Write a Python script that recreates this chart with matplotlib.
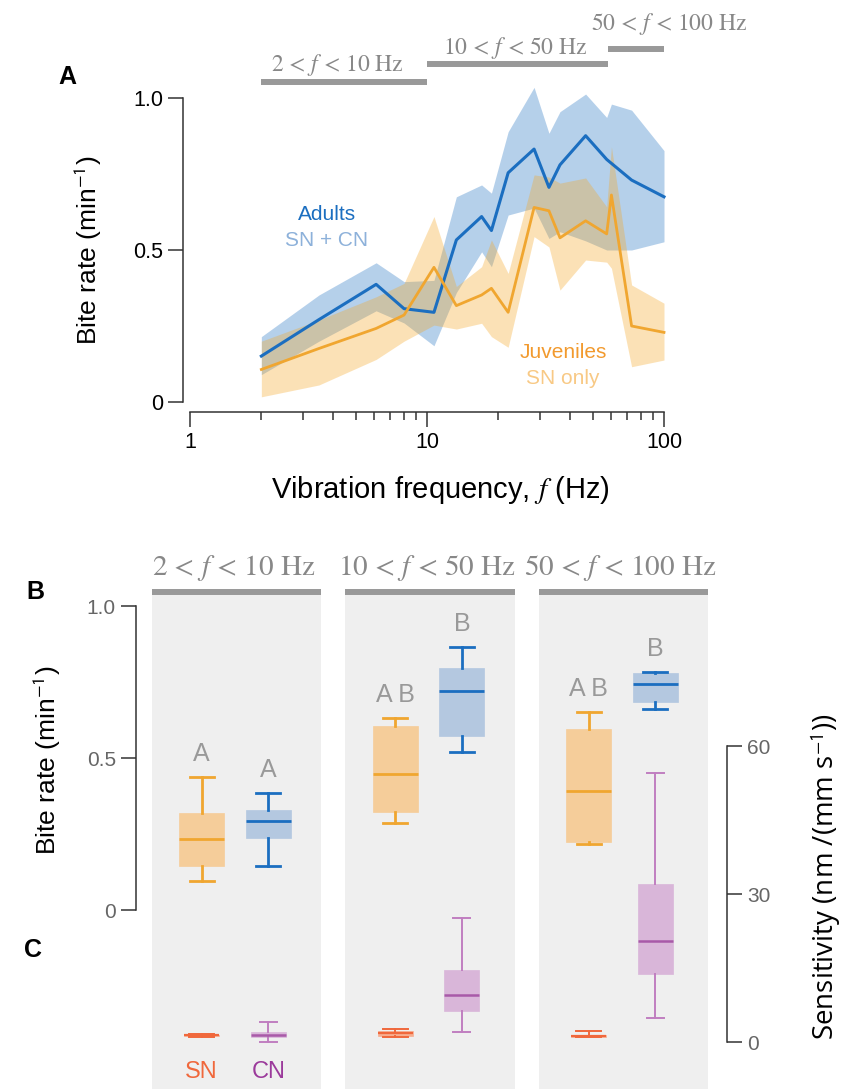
import matplotlib
matplotlib.use('Agg')
import matplotlib.pyplot as plt
from matplotlib.ticker import FixedLocator, NullFormatter

plt.rcParams['font.family'] = ['Liberation Sans', 'DejaVu Sans']
plt.rcParams['mathtext.fontset'] = 'stix'

# ---- panel A: bite rate vs vibration frequency ----
freq = [2, 3.5, 6.1, 8, 10.7, 13.3, 17, 18.7, 22, 28.3, 32.7, 36.4, 46.7, 57.3, 60, 73, 100]
adult_mean = [0.151, 0.271, 0.387, 0.307, 0.295, 0.533, 0.61, 0.564, 0.754, 0.832,
              0.706, 0.78, 0.876, 0.798, 0.785, 0.73, 0.675]
adult_hi = [0.215, 0.352, 0.458, 0.396, 0.40, 0.675, 0.714, 0.687, 0.889, 1.035,
            0.884, 0.955, 1.013, 0.936, 0.98, 0.96, 0.827]
adult_lo = [0.09, 0.20, 0.30, 0.26, 0.185, 0.36, 0.494, 0.445, 0.615, 0.638,
            0.538, 0.56, 0.53, 0.50, 0.50, 0.50, 0.527]
juv_mean = [0.107, 0.176, 0.242, 0.286, 0.443, 0.317, 0.352, 0.374, 0.295, 0.640,
            0.629, 0.540, 0.596, 0.553, 0.681, 0.25, 0.229]
juv_hi = [0.20, 0.27, 0.346, 0.39, 0.61, 0.38, 0.445, 0.533, 0.423, 0.747,
          0.74, 0.72, 0.737, 0.642, 0.84, 0.385, 0.325]
juv_lo = [0.017, 0.056, 0.14, 0.20, 0.253, 0.24, 0.259, 0.215, 0.18, 0.544,
          0.51, 0.368, 0.467, 0.46, 0.44, 0.116, 0.138]

band_lo = [2, 10, 58]
band_hi = [10, 58, 100]
band_names = ['2 < $f$ < 10 Hz', '10 < $f$ < 50 Hz', '50 < $f$ < 100 Hz']

# ---- panel B: bite rate per band (boxes) ----
juv_whislo = [0.096, 0.286, 0.217]
juv_q1 = [0.145, 0.323, 0.223]
juv_med = [0.234, 0.447, 0.391]
juv_q3 = [0.32, 0.605, 0.594]
juv_whishi = [0.4375, 0.632, 0.652]
adu_whislo = [0.146, 0.52, 0.66]
adu_q1 = [0.236, 0.573, 0.684]
adu_med = [0.294, 0.72, 0.743]
adu_q3 = [0.329, 0.795, 0.778]
adu_whishi = [0.384, 0.865, 0.783]
juv_letters = ['A', 'A B', 'A B']
adu_letters = ['A', 'B', 'B']

# ---- panel C: neuromast sensitivity ----
sn_whislo = [1.1, 1.1, 0.95]
sn_q1 = [1.2, 1.3, 0.95]
sn_med = [1.35, 1.75, 1.2]
sn_q3 = [1.5, 2.2, 1.5]
sn_whishi = [1.6, 2.6, 2.2]
cn_whislo = [0.1, 2.1, 4.8]
cn_q1 = [1.1, 6.35, 13.8]
cn_med = [1.35, 9.46, 20.5]
cn_q3 = [2.1, 14.5, 32.0]
cn_whishi = [4.1, 25.2, 54.5]

blue = '#1B6EC0'
blue_fill = '#B4C8E0'
orange = '#F0A630'
orange_fill = '#F5CD9A'
purple = '#A85AA8'
purple_fill = '#D9B6D9'
sn_col = '#F0683C'
sn_fill = '#F7AE90'
bar_gray = '#999999'
serif = ['STIXGeneral', 'DejaVu Serif']

W, H = 843, 1089
fig = plt.figure(figsize=(W / 100, H / 100), dpi=100)

# ================= panel A =================
axA = fig.add_axes([190 / W, 1 - 402 / H, 474 / W, 304 / H])
axA.set_xscale('log')
axA.fill_between(freq, adult_lo, adult_hi, color=blue, alpha=0.32, lw=0, clip_on=False)
axA.fill_between(freq, juv_lo, juv_hi, color='#F5A623', alpha=0.33, lw=0, clip_on=False)
axA.plot(freq, adult_mean, color=blue, lw=2.2, clip_on=False)
axA.plot(freq, juv_mean, color=orange, lw=2.0, clip_on=False)
axA.set_xlim(1, 100)
axA.set_ylim(0, 1)

for s in ['top', 'right']:
    axA.spines[s].set_visible(False)
axA.spines['left'].set_position(('outward', 5))
axA.spines['bottom'].set_position(('outward', 7))
axA.spines['left'].set_bounds(0, 1)
axA.spines['bottom'].set_bounds(1, 100)
for s in ['left', 'bottom']:
    axA.spines[s].set_linewidth(1.1)
    axA.spines[s].set_color('#333333')
axA.set_yticks([0, 0.5, 1.0])
axA.set_yticklabels(['0', '0.5', '1.0'])
axA.xaxis.set_major_locator(FixedLocator([1, 10, 100]))
axA.set_xticklabels(['1', '10', '100'])
axA.xaxis.set_minor_locator(FixedLocator([2, 3, 4, 5, 6, 7, 8, 9, 20, 30, 40, 50, 60, 70, 80, 90]))
axA.xaxis.set_minor_formatter(NullFormatter())
axA.tick_params(which='major', length=11, width=1.1, labelsize=15.5, color='#333333')
axA.tick_params(axis='x', which='minor', length=6, width=1.1, color='#333333')

# frequency band bars above panel A
bar_levels = [1.053, 1.112, 1.161]
text_pos = [(4.17, 1.110), (23.5, 1.165), (105, 1.245)]
for lo, hi, lev, name, (tx, ty) in zip(band_lo, band_hi, bar_levels, band_names, text_pos):
    axA.plot([lo, hi], [lev, lev], color=bar_gray, lw=4.3, solid_capstyle='butt', clip_on=False)
    axA.text(tx, ty, name, ha='center', va='center', fontsize=17, color='#888888',
             family=serif)

fig.text(327 / W, 1 - 215 / H, 'Adults', color=blue, fontsize=15, ha='center', va='center')
fig.text(327 / W, 1 - 240 / H, 'SN + CN', color='#8DB1DA', fontsize=15, ha='center', va='center')
fig.text(563 / W, 1 - 353 / H, 'Juveniles', color='#F29A2E', fontsize=15, ha='center', va='center')
fig.text(563 / W, 1 - 378 / H, 'SN only', color='#F8C985', fontsize=15, ha='center', va='center')

fig.text(88 / W, 1 - 250 / H, r'Bite rate (min$^{\mathsf{-1}}$)', rotation=90,
         fontsize=19, ha='center', va='center')
fig.text(440 / W, 1 - 490 / H, r'Vibration frequency, $f$ (Hz)', fontsize=21,
         ha='center', va='center')
fig.text(67 / W, 1 - 77 / H, 'A', fontsize=18, fontweight='bold', ha='center', va='center')

# ================= panels B and C =================
axB = fig.add_axes([136 / W, 0, 591 / W, 497 / H])
axB.set_xlim(-0.519, 2.535)
axB.set_ylim((910 - 1089) / 304, (910 - 592) / 304)
axB.patch.set_visible(False)
axC = axB.twinx()
axC.set_ylim((1042 - 1089) / 4.933, (1042 - 592) / 4.933)

groups = [0, 1, 2]
off_l, off_r = -0.18, 0.165
for g, name in zip(groups, band_names):
    axB.axvspan(g - 0.437, g + 0.437, color='#EFEFEF', lw=0, zorder=0)
    axB.plot([g - 0.437, g + 0.437], [1, 1], transform=axB.get_xaxis_transform(),
             color=bar_gray, lw=4.3, solid_capstyle='butt', clip_on=False)
    axB.text(g - 0.015, 1.125, name, ha='center', va='center', fontsize=21,
             color='#888888', family=serif)


def box_stats(lo, q1, med, q3, hi):
    return [dict(whislo=a, q1=b, med=c, q3=d, whishi=e, fliers=[])
            for a, b, c, d, e in zip(lo, q1, med, q3, hi)]


def draw_boxes(ax, stats, pos, width, capw, fill, dark, lw, wlw, wcol):
    ax.bxp(stats, positions=pos, widths=width, capwidths=capw, patch_artist=True,
           showfliers=False,
           boxprops=dict(facecolor=fill, edgecolor=fill, lw=0.5),
           medianprops=dict(color=dark, lw=lw),
           whiskerprops=dict(color=wcol, lw=wlw),
           capprops=dict(color=wcol, lw=wlw))


pos_l = [g + off_l for g in groups]
pos_r = [g + off_r for g in groups]

draw_boxes(axB, box_stats(juv_whislo, juv_q1, juv_med, juv_q3, juv_whishi), pos_l,
           0.233, 0.125, orange_fill, orange, 2.0, 2.0, orange)
draw_boxes(axB, box_stats(adu_whislo, adu_q1, adu_med, adu_q3, adu_whishi), pos_r,
           0.233, 0.125, blue_fill, blue, 2.0, 2.0, blue)

for p, hi, lab in zip(pos_l, juv_whishi, juv_letters):
    axB.text(p, hi + 0.075, lab, ha='center', va='center', fontsize=18, color='#999999')
for p, hi, lab in zip(pos_r, adu_whishi, adu_letters):
    axB.text(p, hi + 0.075, lab, ha='center', va='center', fontsize=18, color='#999999')

draw_boxes(axC, box_stats(sn_whislo, sn_q1, sn_med, sn_q3, sn_whishi), pos_l,
           0.18, 0.13, sn_fill, sn_col, 1.6, 1.4, sn_col)
draw_boxes(axC, box_stats(cn_whislo, cn_q1, cn_med, cn_q3, cn_whishi), pos_r,
           0.18, 0.088, purple_fill, purple, 1.8, 1.4, '#C07EC0')

axC.text(pos_l[0], -6.1, 'SN', color=sn_col, fontsize=17, ha='center', va='center')
axC.text(pos_r[0], -6.1, 'CN', color='#9B3A9B', fontsize=17, ha='center', va='center')

for s in ['top', 'bottom', 'right']:
    axB.spines[s].set_visible(False)
for s in ['top', 'bottom', 'left']:
    axC.spines[s].set_visible(False)
axB.spines['left'].set_bounds(0, 1)
axC.spines['right'].set_bounds(0, 60)
axB.spines['left'].set_color('#333333')
axC.spines['right'].set_color('#333333')
axB.spines['left'].set_linewidth(1.1)
axC.spines['right'].set_linewidth(1.1)
axB.set_xticks([])
axB.set_yticks([0, 0.5, 1.0])
axB.set_yticklabels(['0', '0.5', '1.0'])
axC.set_yticks([0, 30, 60])
axB.tick_params(axis='y', length=11, width=1.1, labelsize=15, labelcolor='#666666', color='#333333')
axC.tick_params(axis='y', length=11, width=1.1, labelsize=15, labelcolor='#666666', color='#333333')
axB.set_xlim(-0.519, 2.535)

fig.text(47 / W, 1 - 760 / H, r'Bite rate (min$^{\mathsf{-1}}$)', rotation=90,
         fontsize=19, ha='center', va='center')
fig.text(826 / W, 1 - 877 / H, r'Sensitivity (nm /(mm s$^{\mathsf{-1}}$))', rotation=90,
         fontsize=20, ha='center', va='center', family=['Open Sans', 'DejaVu Sans'])
fig.text(35 / W, 1 - 592 / H, 'B', fontsize=18, fontweight='bold', ha='center', va='center')
fig.text(33 / W, 1 - 950 / H, 'C', fontsize=18, fontweight='bold', ha='center', va='center')

fig.savefig('out.png', dpi=100)
